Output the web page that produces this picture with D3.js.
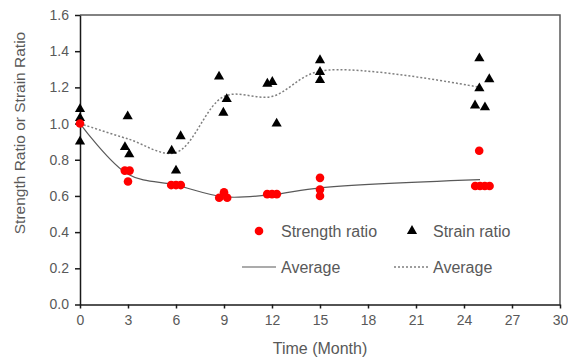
<!DOCTYPE html>
<html>
<head>
<meta charset="utf-8">
<script src="https://cdn.jsdelivr.net/npm/d3@7"></script>
<style>
  body { margin: 0; background: #fff; }
  text { font-family: "Liberation Sans", Arial, sans-serif; fill: #595959; }
</style>
</head>
<body>
<script>
// strength ratio samples (month, ratio)
var strengthT = [0, 2.8, 3.1, 3.0, 5.7, 6.0, 6.3, 8.7, 9.0, 9.2, 11.7, 12.0, 12.3, 15, 15, 15, 24.7, 25.0, 25.3, 25.6, 24.95];
var strengthV = [1.0, 0.74, 0.74, 0.68, 0.66, 0.66, 0.66, 0.59, 0.62, 0.59, 0.61, 0.61, 0.61, 0.70, 0.635, 0.60, 0.655, 0.655, 0.655, 0.655, 0.85];

// strain ratio samples
var strainT = [0, 0, 0, 2.98, 2.81, 3.08, 5.73, 6.29, 6.0, 8.69, 9.17, 8.96, 11.71, 12.02, 12.29, 15, 15, 15, 24.96, 25.58, 24.96, 24.69, 25.31];
var strainV = [1.08, 1.03, 0.90, 1.04, 0.87, 0.83, 0.85, 0.93, 0.74, 1.26, 1.135, 1.06, 1.22, 1.23, 1.0, 1.35, 1.285, 1.24, 1.36, 1.245, 1.195, 1.10, 1.09];

// averages
var avgT = [0, 3, 6, 9, 12, 15, 25];
var strengthAvg = [1.0, 0.72, 0.66, 0.595, 0.607, 0.645, 0.69];
var strainAvg = [1.0, 0.915, 0.84, 1.15, 1.15, 1.29, 1.2];

var xTicks = [0, 3, 6, 9, 12, 15, 18, 21, 24, 27, 30];
var yTicks = [0, 0.2, 0.4, 0.6, 0.8, 1.0, 1.2, 1.4, 1.6];

var width = 568, height = 361;
var margin = {top: 15, right: 8, bottom: 56, left: 80};

var svg = d3.select("body").append("svg")
    .attr("width", width)
    .attr("height", height);

var x = d3.scaleLinear().domain([0, 30]).range([margin.left, width - margin.right]);
var y = d3.scaleLinear().domain([0, 1.6]).range([height - margin.bottom - 0.5, margin.top]);

// frame top/right
svg.append("path")
    .attr("d", "M" + x(0) + "," + y(1.6) + "H" + x(30) + "V" + y(0))
    .attr("fill", "none")
    .attr("stroke", "#595959")
    .attr("stroke-width", 1.5);

var xAxis = d3.axisBottom(x).tickValues(xTicks).tickSize(4).tickSizeOuter(0)
    .tickFormat(d3.format("d"));
var yAxis = d3.axisLeft(y).tickValues(yTicks).tickSize(5).tickSizeOuter(0)
    .tickFormat(d3.format(".1f"));

var gx = svg.append("g")
    .attr("transform", "translate(0," + y(0) + ")")
    .call(xAxis);
var gy = svg.append("g")
    .attr("transform", "translate(" + x(0) + ",0)")
    .call(yAxis);

[gx, gy].forEach(function(g) {
  g.select(".domain").attr("stroke", "#1a1a1a").attr("stroke-width", 1.5);
  g.selectAll(".tick line").attr("stroke", "#1a1a1a").attr("stroke-width", 1.5);
  g.selectAll(".tick text").attr("fill", "#595959").style("font-size", "14px")
    .style("font-family", "'Liberation Sans', Arial, sans-serif");
});
gx.selectAll(".tick text").attr("dy", "0.71em").attr("y", 11);
gy.selectAll(".tick text").attr("x", -11);

svg.append("text")
    .attr("x", x(15))
    .attr("y", 354)
    .attr("text-anchor", "middle")
    .style("font-size", "16px")
    .text("Time (Month)");

svg.append("text")
    .attr("transform", "translate(25," + 133 + ") rotate(-90)")
    .attr("text-anchor", "middle")
    .style("font-size", "15.5px")
    .text("Strength Ratio or Strain Ratio");

// average lines
var line = d3.line()
    .x(function(d) { return x(d[0]); })
    .y(function(d) { return y(d[1]); })
    .curve(d3.curveCatmullRom.alpha(0.5));

svg.append("path")
    .datum(d3.zip(avgT, strengthAvg))
    .attr("d", line)
    .attr("fill", "none")
    .attr("stroke", "#595959")
    .attr("stroke-width", 1.2);

svg.append("path")
    .datum(d3.zip(avgT, strainAvg))
    .attr("d", line)
    .attr("fill", "none")
    .attr("stroke", "#7f7f7f")
    .attr("stroke-width", 1.5)
    .attr("stroke-dasharray", "2,2");

var tri = d3.symbol().type(d3.symbolTriangle).size(45);

svg.append("g").selectAll("path")
    .data(d3.zip(strainT, strainV))
    .enter().append("path")
    .attr("d", tri)
    .attr("transform", function(d) { return "translate(" + x(d[0]) + "," + y(d[1]) + ")"; })
    .attr("fill", "#000");

svg.append("g").selectAll("circle")
    .data(d3.zip(strengthT, strengthV))
    .enter().append("circle")
    .attr("cx", function(d) { return x(d[0]); })
    .attr("cy", function(d) { return y(d[1]); })
    .attr("r", 4.3)
    .attr("fill", "#ff0000");

// legend
var leg = svg.append("g");
leg.append("circle").attr("cx", 259).attr("cy", 231).attr("r", 4.3).attr("fill", "#ff0000");
leg.append("text").attr("x", 281).attr("y", 236.5).style("font-size", "16px").text("Strength ratio");
leg.append("path").attr("d", tri).attr("transform", "translate(412,231)").attr("fill", "#000");
leg.append("text").attr("x", 433).attr("y", 236.5).style("font-size", "16px").text("Strain ratio");
leg.append("line").attr("x1", 242).attr("x2", 276).attr("y1", 267).attr("y2", 267)
    .attr("stroke", "#595959").attr("stroke-width", 1.2);
leg.append("text").attr("x", 281).attr("y", 272.5).style("font-size", "16px").text("Average");
leg.append("line").attr("x1", 394).attr("x2", 429).attr("y1", 267).attr("y2", 267)
    .attr("stroke", "#7f7f7f").attr("stroke-width", 1.5).attr("stroke-dasharray", "2,2");
leg.append("text").attr("x", 433).attr("y", 272.5).style("font-size", "16px").text("Average");
</script>
</body>
</html>
